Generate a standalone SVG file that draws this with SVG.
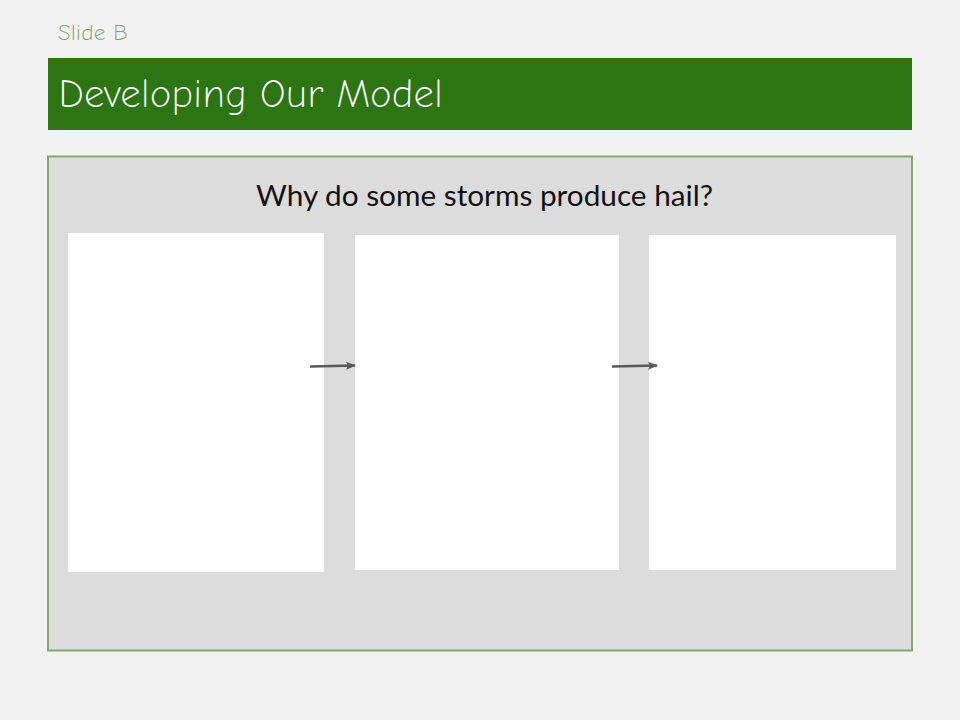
<svg xmlns="http://www.w3.org/2000/svg" width="960" height="720" viewBox="0 0 960 720">
  <style>
    .panel { fill: #ffffff; }
    .flow { stroke: #595959; stroke-width: 2.5; fill: none; marker-end: url(#head); }
    .hand { font-family: "Comic Neue", "Lato", "Open Sans", sans-serif; font-weight: 300; }
  </style>
  <defs>
    <marker id="head" viewBox="0 0 10 10" refX="9" refY="5" markerWidth="4" markerHeight="4" orient="auto" markerUnits="strokeWidth">
      <path d="M0,1 L10,5 L0,9 L2,5 Z" fill="#595959"/>
    </marker>
  </defs>

  <!-- page -->
  <rect x="0" y="0" width="960" height="720" fill="#f2f2f2"/>
  <text x="58" y="40" class="hand" font-size="23" fill="#7fa06b">Slide B</text>

  <!-- title bar -->
  <rect x="48" y="58" width="864" height="72" fill="#2d7513"/>
  <text x="58" y="107" class="hand" font-size="40" fill="#ffffff" textLength="385" lengthAdjust="spacingAndGlyphs">Developing Our Model</text>

  <!-- content frame -->
  <rect x="48" y="156.5" width="864" height="494" fill="#dcdcdc" stroke="#86a872" stroke-width="2"/>
  <text x="484.5" y="206" font-family="Lato, 'Open Sans', sans-serif" font-size="29.5" fill="#111111" text-anchor="middle" textLength="457" lengthAdjust="spacingAndGlyphs">Why do some storms produce hail?</text>

  <g id="step1"><rect class="panel" x="68" y="233" width="256" height="339"/></g>
  <g id="step2"><rect class="panel" x="355" y="235" width="264" height="335"/></g>
  <g id="step3"><rect class="panel" x="649" y="235" width="247" height="335"/></g>

  <g id="connectors">
    <line class="flow" x1="310" y1="366.5" x2="355" y2="365.5"/>
    <line class="flow" x1="612" y1="366.5" x2="657" y2="365.5"/>
  </g>
</svg>
